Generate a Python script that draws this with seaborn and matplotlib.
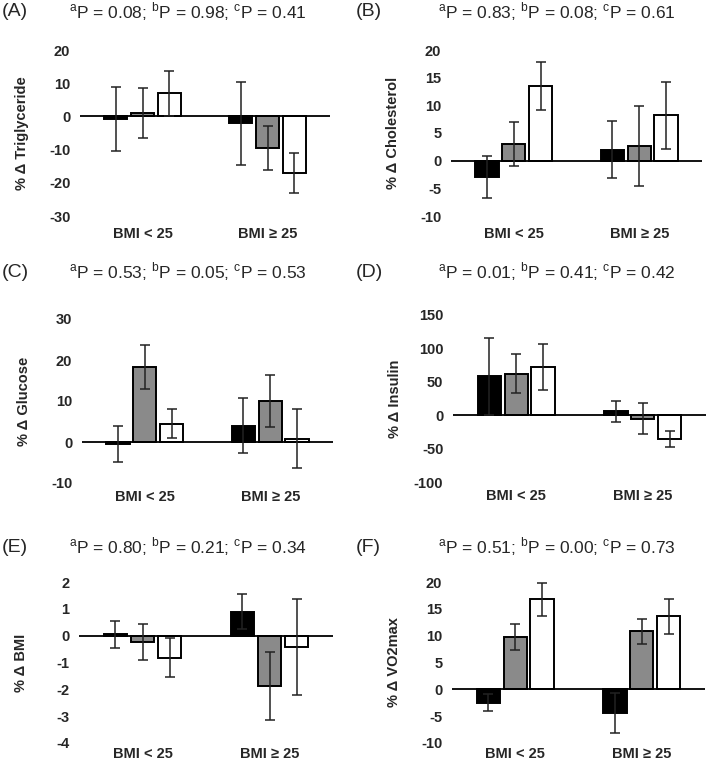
import matplotlib
matplotlib.use("Agg")
import matplotlib.pyplot as plt
import numpy as np
import pandas as pd
import seaborn as sns

categories = ["BMI < 25", "BMI ≥ 25"]
groups = ["Group 1", "Group 2", "Group 3"]
group_colors = ["black", "#8a8a8a", "white"]

# mean % change and error, rows = BMI category, columns = group
trig_mean = [[-0.8, 1.0, 7.0], [-2.0, -9.5, -17.0]]
trig_err = [[9.6, 7.5, 6.8], [12.5, 6.5, 6.0]]
chol_mean = [[-3.0, 3.0, 13.5], [2.0, 2.6, 8.2]]
chol_err = [[3.8, 4.0, 4.3], [5.1, 7.2, 6.1]]
gluc_mean = [[-0.5, 18.3, 4.5], [4.0, 10.0, 0.8]]
gluc_err = [[4.4, 5.4, 3.6], [6.7, 6.3, 7.2]]
ins_mean = [[58, 62, 72], [6, -5, -35]]
ins_err = [[57, 29, 34], [16, 23, 12]]
bmi_mean = [[0.05, -0.25, -0.82], [0.9, -1.88, -0.42]]
bmi_err = [[0.5, 0.67, 0.73], [0.65, 1.28, 1.8]]
vo2_mean = [[-2.5, 9.8, 16.8], [-4.4, 10.8, 13.6]]
vo2_err = [[1.6, 2.4, 3.1], [3.7, 2.3, 3.3]]

p_values = [
    ["0.08", "0.98", "0.41"],
    ["0.83", "0.08", "0.61"],
    ["0.53", "0.05", "0.53"],
    ["0.01", "0.41", "0.42"],
    ["0.80", "0.21", "0.34"],
    ["0.51", "0.00", "0.73"],
]
panel_labels = ["(A)", "(B)", "(C)", "(D)", "(E)", "(F)"]
y_labels = ["% Δ Triglyceride", "% Δ Cholesterol", "% Δ Glucose",
            "% Δ Insulin", "% Δ BMI", "% Δ VO2max"]
y_ranges = [(-30, 20, 10), (-10, 20, 5), (-10, 30, 10),
            (-100, 150, 50), (-4, 2, 1), (-10, 20, 5)]

means = [trig_mean, chol_mean, gluc_mean, ins_mean, bmi_mean, vo2_mean]
errs = [trig_err, chol_err, gluc_err, ins_err, bmi_err, vo2_err]

W, H = 709, 771
# axes boxes in pixels: left, right, top, bottom
boxes = [(80, 330, 50, 216), (451, 702, 50, 216),
         (82, 333, 319, 483), (453, 706, 315, 482),
         (79, 333, 582, 743), (452, 705, 582, 743)]
title_y = [12, 12, 272, 272, 547, 547]
x_pads = [8, 8, 5, 5, 3, 3]

sns.set_style("white")
plt.rcParams["font.family"] = ["Liberation Sans", "DejaVu Sans"]
plt.rcParams["mathtext.fontset"] = "custom"
plt.rcParams["mathtext.rm"] = "Liberation Sans"

fig = plt.figure(figsize=(W / 100, H / 100), dpi=100)
palette = dict(zip(groups, group_colors))

for k in range(6):
    x0, x1, y0, y1 = boxes[k]
    ax = fig.add_axes([x0 / W, 1 - y1 / H, (x1 - x0) / W, (y1 - y0) / H])

    rows = []
    for i, cat in enumerate(categories):
        for j, g in enumerate(groups):
            rows.append({"category": cat, "group": g, "value": means[k][i][j]})
    df = pd.DataFrame(rows)

    sns.barplot(data=df, x="category", y="value", hue="group",
                order=categories, hue_order=groups, palette=palette,
                saturation=1, edgecolor="black", linewidth=1.4,
                width=0.64, gap=0.13, errorbar=None, legend=False, ax=ax)

    err = np.array(errs[k])
    bar_sets = list(ax.containers)
    for j, cont in enumerate(bar_sets):
        xs = [b.get_x() + b.get_width() / 2 for b in cont.patches]
        ax.errorbar(xs, cont.datavalues, yerr=err[:, j], fmt="none",
                    ecolor="#222222", elinewidth=1.1, capsize=3.5,
                    capthick=1.1, zorder=4)

    ax.axhline(0, color="black", lw=1.3, zorder=3)

    lo, hi, step = y_ranges[k]
    ticks = np.arange(lo, hi + step / 2, step)
    ax.set_xlim(-0.5, 1.5)
    ax.set_ylim(lo, hi)
    ax.set_yticks(ticks, [f"{t:g}" for t in ticks],
                  fontweight="bold", fontsize=10.5)
    ax.set_xticks(range(len(categories)), categories,
                  fontweight="bold", fontsize=10.5)
    ax.tick_params(axis="y", length=0, pad=7)
    ax.tick_params(axis="x", length=0, pad=x_pads[k])
    ax.set_xlabel("")
    ax.set_ylabel(y_labels[k], fontweight="bold", fontsize=10.5)
    ax.yaxis.set_label_coords(-51 / (x1 - x0), 0.5)
    for s in ax.spines.values():
        s.set_visible(False)

    col_x = 0 if k % 2 == 0 else 354
    pa, pb, pc = p_values[k]
    title = (r"$^{\mathrm{a}}$P = " + pa + r"; $^{\mathrm{b}}$P = " + pb
             + r"; $^{\mathrm{c}}$P = " + pc)
    fig.text((col_x + 2) / W, 1 - title_y[k] / H, panel_labels[k],
             fontsize=14, ha="left", va="center")
    fig.text((col_x + 188 if k % 2 == 0 else col_x + 203) / W,
             1 - title_y[k] / H, title, fontsize=12.5, ha="center",
             va="center")

fig.savefig("out.png", dpi=100)
